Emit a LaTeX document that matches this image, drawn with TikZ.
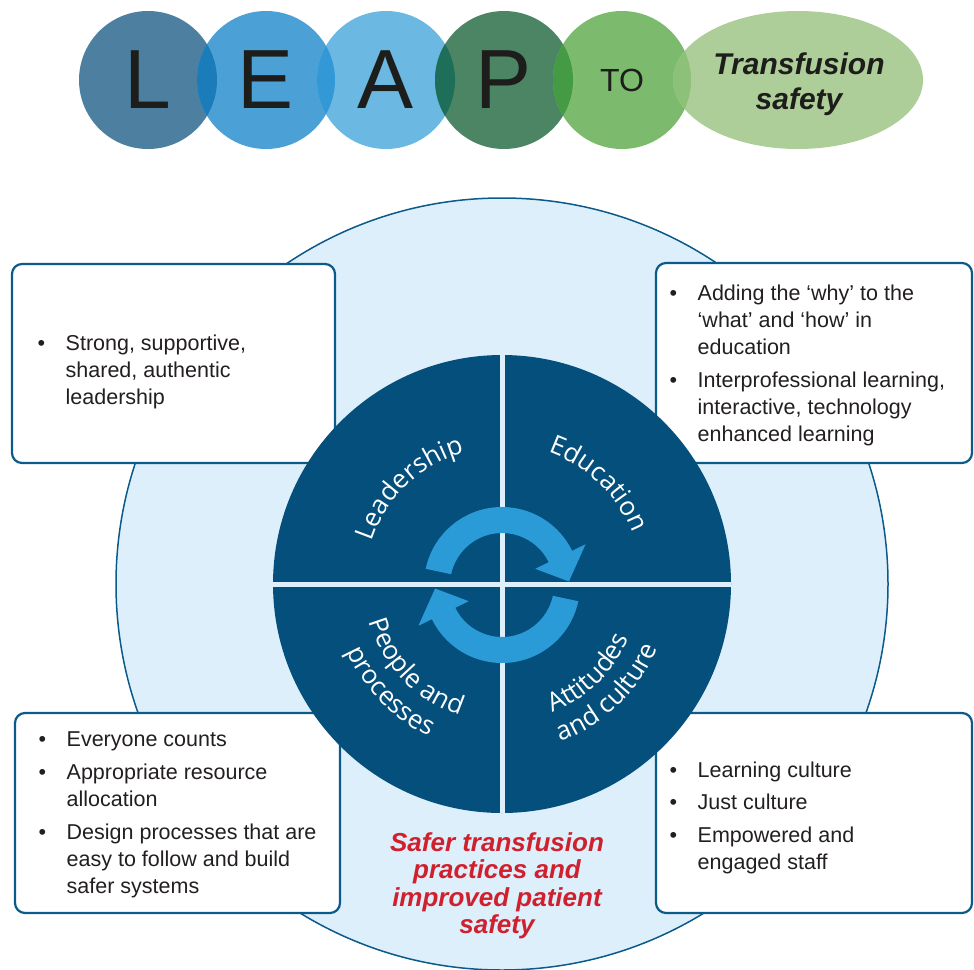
\documentclass[tikz,border=0pt]{standalone}
\usepackage{fontspec}
\setmainfont{Liberation Sans}
\newfontfamily\quadfont{Open Sans}
\usetikzlibrary{shapes.geometric, decorations.text}

\definecolor{navy}{HTML}{044F7B}
\definecolor{ringline}{HTML}{0B5A8A}
\definecolor{paleblue}{HTML}{DDEFFB}
\definecolor{arrowblue}{HTML}{2B9BD8}
\definecolor{safered}{HTML}{D0202E}
\definecolor{bodytext}{HTML}{231F20}
\definecolor{leaptext}{HTML}{1D1D1B}
\definecolor{leapL}{HTML}{4C7FA0}
\definecolor{leapE}{HTML}{4BA0D6}
\definecolor{leapA}{HTML}{6BB8E3}
\definecolor{leapP}{HTML}{4B8563}
\definecolor{leapT}{HTML}{7CBB6E}
\definecolor{leapG}{HTML}{ADCE98}
\definecolor{lensLE}{HTML}{1A7CB8}
\definecolor{lensEA}{HTML}{3399D6}
\definecolor{lensAP}{HTML}{1F6E5A}
\definecolor{lensPT}{HTML}{459A44}
\definecolor{lensTG}{HTML}{8DC079}

\newcommand{\bul}{\makebox[28pt][l]{\textbullet}}

\tikzset{
  infobox/.style={draw=ringline, line width=2.2pt, fill=white, rounded corners=10pt,
    inner sep=0pt},
  listtext/.style={anchor=north west, inner sep=0pt, text=bodytext,
    font=\fontsize{21.5}{27}\selectfont},
  leapcircle/.style={circle, minimum size=138pt, inner sep=0pt, text=leaptext,
    font=\fontsize{84}{84}\selectfont},
  quadlabel/.style={decorate, decoration={text along path, text color=white,
    text align=center, text={|\quadfont\fontsize{26}{26}\selectfont|#1}}},
}

\begin{document}
\begin{tikzpicture}[x=1pt, y=1pt]
    \useasboundingbox (0,0) rectangle (974,-969);

    % LEAP to transfusion safety
    \node[leapcircle, fill=leapL] (L) at (148,-80) {L};
    \node[leapcircle, fill=leapE] (E) at (266,-80) {E};
    \node[leapcircle, fill=leapA] (A) at (386,-80) {A};
    \node[leapcircle, fill=leapP] (P) at (504,-80) {P};
    \node[leapcircle, fill=leapT, font=\fontsize{32}{32}\selectfont] (to) at (622,-80) {TO};
    \node[ellipse, fill=leapG, minimum width=250pt, minimum height=138pt, inner sep=0pt]
        (goal) at (798,-80) {};
    \node[align=center, text=leaptext, font=\bfseries\itshape\fontsize{30}{35}\selectfont]
        (goaltext) at (799,-84) {Transfusion\\safety};
    \foreach \a/\b/\c in {L/E/lensLE, E/A/lensEA, A/P/lensAP, P/to/lensPT} {
        \begin{scope}
            \clip (\a.center) circle (69);
            \fill[\c] (\b.center) circle (69);
        \end{scope}
    }
    \begin{scope}
        \clip (to.center) circle (69);
        \fill[lensTG] (goal.center) ellipse [x radius=125, y radius=69];
    \end{scope}

    % Background circle
    \coordinate (C) at (502,-584);
    \filldraw[fill=paleblue, draw=ringline, line width=1.5pt] (C) circle (386);

    % Boxes
    \node[infobox, minimum width=323pt, minimum height=199pt] (leadbox) at (173.5,-363.5) {};
    \node[infobox, minimum width=316pt, minimum height=200pt] (edubox) at (814,-363) {};
    \node[infobox, minimum width=325pt, minimum height=200pt] (peoplebox) at (177.5,-813) {};
    \node[infobox, minimum width=316pt, minimum height=200pt] (culturebox) at (814,-813) {};

    \node[listtext] (leadtext) at (37.5,-331) {\begin{tabular}{@{}l@{}l@{}}
        \bul & Strong, supportive,\\ & shared, authentic\\ & leadership
    \end{tabular}};
    \node[listtext] (edutext) at (669.5,-281) {\begin{tabular}{@{}l@{}l@{}}
        \bul & Adding the `why' to the\\ & `what' and `how' in\\ & education\\[6pt]
        \bul & Interprofessional learning,\\ & interactive, technology\\ & enhanced learning
    \end{tabular}};
    \node[listtext] (peopletext) at (38.5,-727) {\begin{tabular}{@{}l@{}l@{}}
        \bul & Everyone counts\\[6pt]
        \bul & Appropriate resource\\ & allocation\\[6pt]
        \bul & Design processes that are\\ & easy to follow and build\\ & safer systems
    \end{tabular}};
    \node[listtext] (culturetext) at (669.5,-758) {\begin{tabular}{@{}l@{}l@{}}
        \bul & Learning culture\\[5pt]
        \bul & Just culture\\[6pt]
        \bul & Empowered and\\ & engaged staff
    \end{tabular}};

    % Four quadrants
    \fill[navy] (C) circle (229);
    \draw[paleblue, line width=5pt] (C) ++(-229,0) -- ++(458,0);
    \draw[paleblue, line width=5pt] (C) ++(0,229) -- ++(0,-458);

    % Cycle arrows
    \foreach \r in {0,180}
        \fill[arrowblue, shift={(502,-585)}, rotate=\r] (168:78)
            arc[start angle=168, end angle=26, radius=78] -- (26:93) -- (3:67)
            -- (26:37) -- (26:52) arc[start angle=26, end angle=168, radius=52] -- cycle;

    % Quadrant labels
    \path[quadlabel=Leadership] (C) ++(179:137) arc[start angle=179, end angle=89, radius=137];
    \path[quadlabel=Education] (C) ++(91:140) arc[start angle=91, end angle=1, radius=140];
    \path[quadlabel=People and] (C) ++(179:138) arc[start angle=179, end angle=269, radius=138];
    \path[quadlabel=processes] (C) ++(179:169) arc[start angle=179, end angle=269, radius=169];
    \path[quadlabel=Attitudes] (C) ++(-91:138) arc[start angle=-91, end angle=-1, radius=138];
    \path[quadlabel=and culture] (C) ++(-91:168) arc[start angle=-91, end angle=-1, radius=168];

    % Outcome
    \node[align=center, text=safered, font=\bfseries\itshape\fontsize{26}{27.5}\selectfont]
        (outcome) at (497,-886) {Safer transfusion\\practices and\\improved patient\\safety};
\end{tikzpicture}
\end{document}
